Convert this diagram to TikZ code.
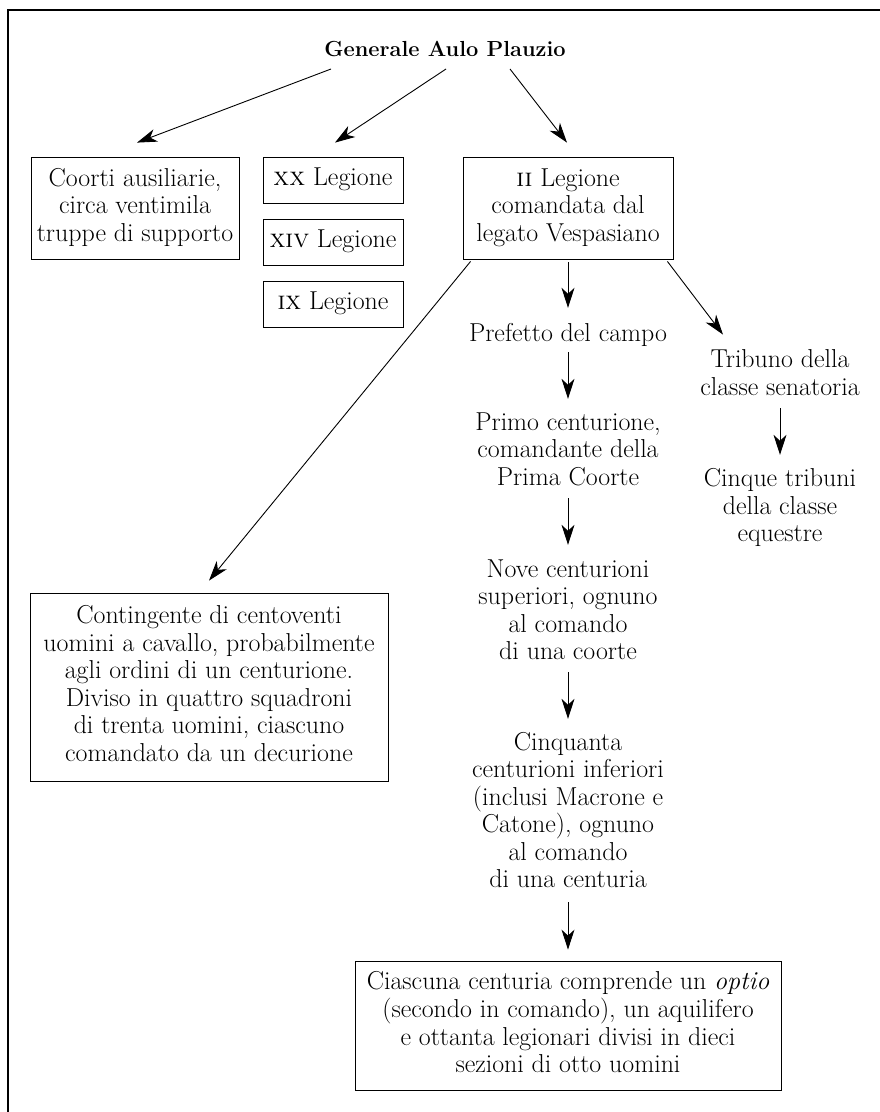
\documentclass[tikz,border=0pt]{standalone}
\usetikzlibrary{arrows.meta}
\tikzset{
  txt/.style={align=center, inner sep=0pt, font=\fontsize{25.9}{27.5}\selectfont},
  box/.style={txt, draw, line width=0.8pt},
  ttl/.style={inner sep=0pt, font=\fontsize{21.8}{25}\selectfont\bfseries},
  arr/.style={line width=0.9pt, -{Stealth[length=20pt,width=13pt,inset=6pt]}},
  frame/.style={line width=1.6pt}
}
\begin{document}
\begin{tikzpicture}[x=1pt,y=-1pt]
\useasboundingbox (0,0) rectangle (879,1112);
\draw[frame] (881,10) -- (8,10) -- (8,1114);

\node[ttl, anchor=base] (title) at (445,56) {Generale Aulo Plauzio};

\node[box, minimum width=208pt, minimum height=102pt] (coorti) at (135,208)
  {\strut Coorti ausiliarie,\\circa ventimila\\truppe di supporto\strut};
\node[box, minimum width=140pt, minimum height=46pt] (xx) at (333,180) {\strut\textsc{xx} Legione\strut};
\node[box, minimum width=140pt, minimum height=46pt] (xiv) at (333,242) {\strut\textsc{xiv} Legione\strut};
\node[box, minimum width=140pt, minimum height=46pt] (ix) at (333,304) {\strut\textsc{ix} Legione\strut};
\node[box, minimum width=210pt, minimum height=102pt] (ii) at (568,208)
  {\strut\textsc{ii} Legione\\comandata dal\\legato Vespasiano\strut};

\node[txt] (pref) at (568,335.5) {\strut Prefetto del campo\strut};
\node[txt] (trib) at (780,376) {\strut Tribuno della\\classe senatoria\strut};
\node[txt] (primo) at (568,452) {\strut Primo centurione,\\comandante della\\Prima Coorte\strut};
\node[txt] (cinque) at (780,508.5) {\strut Cinque tribuni\\della classe\\equestre\strut};
\node[txt] (nove) at (568,612.75) {\strut Nove centurioni\\superiori, ognuno\\al comando\\di una coorte\strut};
\node[box, minimum width=358pt, minimum height=188pt] (cont) at (209,687)
  {\strut Contingente di centoventi\\uomini a cavallo, probabilmente\\agli ordini di un centurione.\\Diviso in quattro squadroni\\di trenta uomini, ciascuno\\comandato da un decurione\strut};
\node[txt] (cinq) at (568,813.25) {\strut Cinquanta\\centurioni inferiori\\(inclusi Macrone e\\Catone), ognuno\\al comando\\di una centuria\strut};
\node[box, minimum width=426pt, minimum height=129pt] (final) at (568,1025.5)
  {\strut Ciascuna centuria comprende un \textit{optio}\\(secondo in comando), un aquilifero\\e ottanta legionari divisi in dieci\\sezioni di otto uomini\strut};

\draw[arr] ([shift={(-114pt,-13pt)}]title.base) -- ([shift={(2pt,14pt)}]coorti.north);
\draw[arr] ([shift={(1pt,-13pt)}]title.base) -- ([shift={(2pt,14pt)}]xx.north);
\draw[arr] ([shift={(65pt,-13pt)}]title.base) -- ([shift={(-1pt,14pt)}]ii.north);
\draw[arr] ([yshift=-3pt]ii.south) -- ([yshift=13.75pt]pref.north);
\draw[arr] ([shift={(-6pt,-2pt)}]ii.south east) -- ([shift={(-57pt,13.75pt)}]trib.north);
\draw[arr] ([shift={(8pt,-2pt)}]ii.south west) -- ([yshift=12pt]cont.north);
\draw[arr] ([yshift=-2.75pt]pref.south) -- ([yshift=11.75pt]primo.north);
\draw[arr] ([yshift=-4.75pt]primo.south) -- ([yshift=12.75pt]nove.north);
\draw[arr] ([yshift=-4.25pt]nove.south) -- ([yshift=11.75pt]cinq.north);
\draw[arr] ([yshift=-6.25pt]cinq.south) -- ([yshift=11pt]final.north);
\draw[arr] ([yshift=-4.75pt]trib.south) -- ([yshift=12.25pt]cinque.north);
\end{tikzpicture}
\end{document}
